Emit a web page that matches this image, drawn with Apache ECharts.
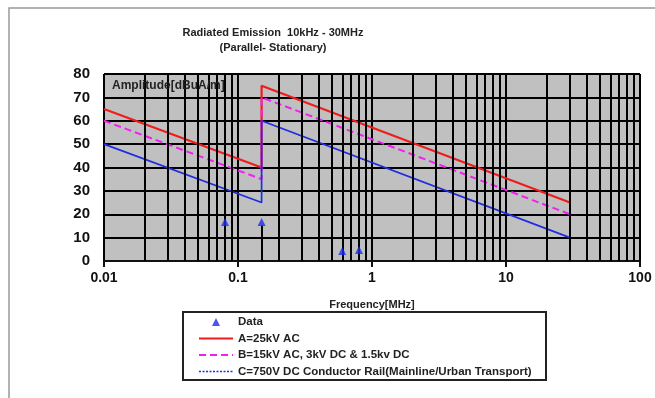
<!DOCTYPE html>
<html><head><meta charset="utf-8">
<script src="https://cdn.jsdelivr.net/npm/echarts@6/dist/echarts.min.js"></script>
<style>html,body{margin:0;padding:0;background:#fff}#c{width:655px;height:398px}</style>
</head><body><div id="c"></div>
<script>
const titleLines = ['Radiated Emission  10kHz - 30MHz', '(Parallel- Stationary)'];
const seriesNames = ['Data', 'A=25kV AC', 'B=15kV AC, 3kV DC & 1.5kv DC', 'C=750V DC Conductor Rail(Mainline/Urban Transport)'];
const dataPoints = [[0.08, 16.7], [0.15, 16.7], [0.6, 4.3], [0.8, 4.7]];
const lineA = [[0.01, 65], [0.15, 40], [0.15, 75], [30, 25]];
const lineB = [[0.01, 60], [0.15, 35], [0.15, 70], [30, 20]];
const lineC = [[0.01, 50], [0.15, 25], [0.15, 60], [30, 10]];
const minorGrid = [0.02,0.03,0.04,0.05,0.06,0.07,0.08,0.09,0.2,0.3,0.4,0.5,0.6,0.7,0.8,0.9,2,3,4,5,6,7,8,9,20,30,40,50,60,70,80,90];
const xLabels = {0.01:'0.01', 0.1:'0.1', 1:'1', 10:'10', 100:'100'};

const chart = echarts.init(document.getElementById('c'));
const font = 'Liberation Sans, Arial, sans-serif';
const narrow = 'Liberation Sans Narrow, Liberation Sans, Arial';
const hiddenSym = {color: 'rgba(0,0,0,0)', borderWidth: 0};
chart.setOption({
  animation: false,
  backgroundColor: '#fff',
  title: {
    text: titleLines.join('\n'), left: 268, top: 20, textAlign: 'center',
    textStyle: {fontFamily: narrow, fontSize: 11, fontWeight: 'bold', color: '#222', lineHeight: 15}
  },
  grid: {left: 104, right: 15, top: 74, bottom: 137, show: true, backgroundColor: '#c0c0c0', borderColor: '#888', borderWidth: 1},
  xAxis: {
    type: 'log', logBase: 10, min: 0.01, max: 100,
    name: 'Frequency[MHz]', nameLocation: 'middle', nameGap: 38,
    nameTextStyle: {fontFamily: narrow, fontSize: 11, fontWeight: 'bold', color: '#222'},
    axisLine: {show: true, onZero: false, lineStyle: {color: '#111', width: 2}},
    axisTick: {show: true, length: 6, lineStyle: {color: '#111', width: 2}},
    axisLabel: {fontFamily: font, fontSize: 14, fontWeight: 'bold', color: '#111', margin: 10, formatter: v => xLabels[+v.toPrecision(3)] || String(v)},
    splitLine: {show: true, lineStyle: {color: '#000', width: 2}}
  },
  yAxis: {
    type: 'value', min: 0, max: 80, interval: 10,
    axisLine: {show: false}, axisTick: {show: false},
    axisLabel: {fontFamily: font, fontSize: 15, fontWeight: 'bold', color: '#111', margin: 14},
    splitLine: {show: true, lineStyle: {color: '#000', width: 2}}
  },
  legend: {
    orient: 'vertical', left: 193, top: 311, itemWidth: 34, itemHeight: 8, itemGap: 4.5, symbolKeepAspect: true,
    data: [
      {name: seriesNames[0], icon: 'path://M4,0 L8,8 L0,8 Z'},
      {name: seriesNames[1], itemStyle: hiddenSym},
      {name: seriesNames[2], itemStyle: hiddenSym},
      {name: seriesNames[3], itemStyle: hiddenSym, lineStyle: {type: [2, 1.5], width: 1.5}}
    ],
    textStyle: {fontFamily: font, fontSize: 11.5, fontWeight: 'bold', color: '#222', lineHeight: 12}
  },
  graphic: [
    {type: 'rect', shape: {x: 9, y: 8, width: 660, height: 400}, style: {fill: 'none', stroke: '#999', lineWidth: 1.5}, silent: true},
    {type: 'rect', shape: {x: 183, y: 312, width: 363, height: 68}, style: {fill: 'none', stroke: '#222', lineWidth: 2}, silent: true},
    {type: 'text', x: 112, y: 80, style: {text: 'Amplitude[dBuA/m]', fontFamily: narrow, fontSize: 12, fontWeight: 'bold', fill: '#222'}, z: 100}
  ],
  series: [
    {
      name: 'grid-minor', type: 'line', data: [], silent: true,
      markLine: {symbol: 'none', silent: true, label: {show: false}, lineStyle: {color: '#000', width: 2, type: 'solid'},
        data: minorGrid.map(v => ({xAxis: v}))}
    },
    {
      name: seriesNames[0], type: 'scatter', data: dataPoints, symbol: 'triangle', symbolSize: 8, symbolKeepAspect: true,
      itemStyle: {color: '#1a2cf0'}, z: 5,
      markLine: {symbol: 'none', silent: true, label: {show: false}, lineStyle: {color: '#000', width: 2, type: 'solid'},
        data: dataPoints.map(p => [{coord: [p[0], 0]}, {coord: [p[0], p[1] - 1.5]}])}
    },
    {name: seriesNames[1], type: 'line', data: lineA, symbol: 'none', lineStyle: {color: '#f01c1c', width: 2.2}, itemStyle: {color: '#f01c1c'}, z: 4},
    {name: seriesNames[2], type: 'line', data: lineB, symbol: 'none', lineStyle: {color: '#f020f0', width: 2, type: [7, 4]}, itemStyle: {color: '#f020f0'}, z: 4},
    {name: seriesNames[3], type: 'line', data: lineC, symbol: 'none', lineStyle: {color: '#1f2ce0', width: 1.7}, itemStyle: {color: '#1f2ce0'}, z: 4}
  ]
});
</script></body></html>
